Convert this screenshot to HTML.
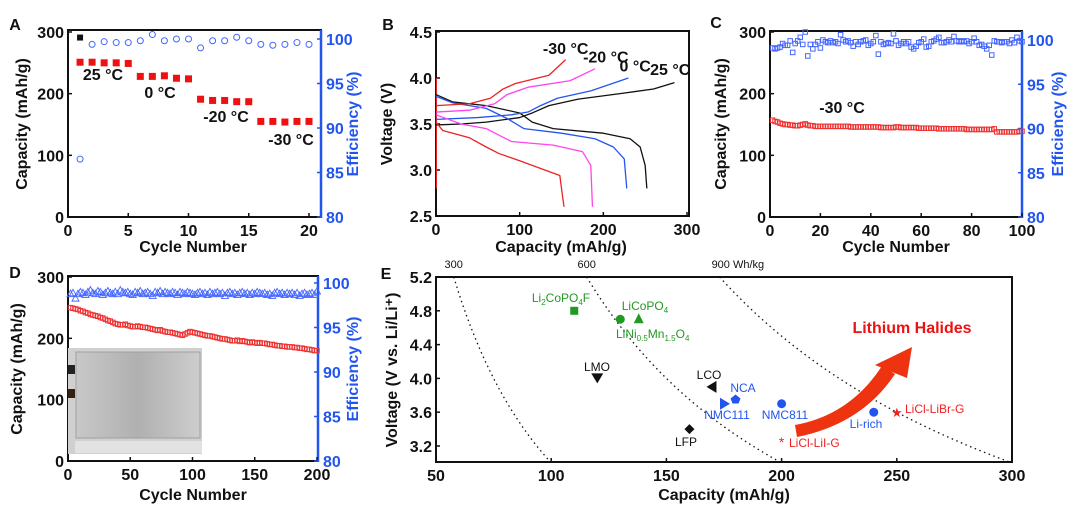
<!DOCTYPE html>
<html><head><meta charset="utf-8"><style>
html,body{margin:0;padding:0;background:#fff;}
svg{display:block;font-family:"Liberation Sans",Arial,sans-serif;}
.t{font-weight:bold;font-size:16px;}
</style></head><body>
<svg id="fig" width="1080" height="508" viewBox="0 0 1080 508"></svg>
<script>
// ---------- DATA ----------
const cyclesA=[1,2,3,4,5,6,7,8,9,10,11,12,13,14,15,16,17,18,19,20];
const capA=[251,251,250,250,249,228,228,229,225,224,191,189,189,187,187,155,155,154,155,155];
const capA1Charge=[291];
const effA=[86.5,99.4,99.7,99.6,99.6,99.8,100.5,99.8,100,100,99,99.8,99.8,100.2,99.8,99.4,99.3,99.4,99.6,99.4];
const xTicksA=[0,5,10,15,20];
const capTicks=[0,100,200,300];
const effTicks=[80,85,90,95,100];

const vTicksB=[2.5,3.0,3.5,4.0,4.5];
const xTicksB=[0,100,200,300];
const curvesB=[
 {name:'25c-charge',c:'#111',pts:[[0,3.49],[30,3.5],[60,3.52],[100,3.57],[115,3.62],[135,3.7],[170,3.77],[220,3.83],[260,3.88],[285,3.95]]},
 {name:'25c-discharge',c:'#111',pts:[[0,3.82],[20,3.74],[60,3.7],[100,3.62],[115,3.52],[140,3.45],[200,3.4],[232,3.34],[244,3.25],[250,3.05],[252,2.8]]},
 {name:'0c-charge',c:'#2255ee',pts:[[0,3.55],[50,3.57],[90,3.6],[110,3.63],[125,3.7],[145,3.78],[185,3.86],[230,4.0]]},
 {name:'0c-discharge',c:'#2255ee',pts:[[0,3.8],[20,3.73],[60,3.67],[85,3.56],[105,3.45],[150,3.4],[190,3.34],[212,3.25],[225,3.12],[228,2.8]]},
 {name:'m20c-charge',c:'#ff44ee',pts:[[0,3.63],[40,3.65],[70,3.72],[85,3.82],[110,3.9],[160,3.97],[190,4.1]]},
 {name:'m20c-discharge',c:'#ff44ee',pts:[[0,3.6],[30,3.5],[60,3.45],[75,3.38],[90,3.31],[140,3.27],[175,3.2],[185,3.05],[187,2.6]]},
 {name:'m30c-charge',c:'#ee2222',pts:[[0,3.7],[40,3.72],[65,3.78],[80,3.88],[95,3.94],[135,4.03],[155,4.2]]},
 {name:'m30c-discharge',c:'#ee2222',pts:[[0,3.52],[8,3.43],[40,3.35],[60,3.25],[75,3.18],[100,3.1],[130,3.0],[148,2.94],[150,2.8],[153,2.6]]}
];
const labelsB=[['-30 °C',155,4.26],['-20 °C',203,4.17],['0 °C',238,4.07],['25 °C',280,4.03]];

const xTicksC=[0,20,40,60,80,100];
const capC=[157,155,154,152,151,150,150,149,149,148,148,149,150,151,149,148,148,147,147,147,
147,147,147,147,147,147,147,147,147,147,147,146,146,146,146,146,146,146,146,146,
146,146,146,145,145,145,145,145,145,146,146,145,145,145,145,145,145,145,144,144,
144,144,144,144,144,144,143,143,143,143,143,143,143,143,143,143,143,142,142,142,
142,142,142,142,142,142,142,142,143,138,138,138,138,138,138,138,138,138,139,139];
const effC=[99.1,99.0,99.1,99.2,99.6,99.4,99.4,99.9,98.6,99.6,99.9,100.3,99.5,100.9,98.2,99.5,99.0,99.5,99.8,99.1,
100.0,99.8,99.7,99.9,99.7,99.8,99.6,100.6,100.0,99.8,99.9,99.7,99.3,99.8,99.5,99.8,99.9,100.0,99.4,99.6,
99.8,100.5,98.4,99.8,99.5,99.6,99.7,99.6,100.7,99.9,99.4,99.6,99.8,99.6,99.8,99.2,99.0,99.3,99.7,99.8,
100.1,99.2,99.3,99.8,99.9,100.1,100.3,99.7,99.7,99.8,100.0,99.8,100.4,99.9,99.8,99.9,99.8,99.9,99.6,99.8,
100.2,99.8,99.4,99.5,99.3,99.0,99.4,98.3,99.9,99.8,99.8,99.7,99.8,99.8,99.6,100.0,99.7,100.3,99.9,99.8];

const xTicksD=[0,50,100,150,200];
const capD=[250,249,248,247,245,244,242,241,239,238,237,236,234,233,231,229,228,226,224,223,
222,222,223,221,220,219,219,220,219,218,218,217,216,215,214,213,214,212,211,210,
210,209,208,207,206,205,207,209,211,210,209,208,207,206,205,204,204,203,202,201,
200,199,199,198,197,196,196,197,195,196,195,194,193,194,193,192,193,192,192,191,
190,190,189,188,188,187,187,186,186,186,185,185,184,184,183,182,182,181,180,180];
const effD=[98.8,98.9,98.3,98.8,99.0,98.9,98.7,99.0,99.2,98.9,98.8,99.1,99.0,98.7,98.9,99.1,98.9,98.8,99.0,98.8,
99.2,99.0,98.9,99.0,98.8,98.7,99.0,98.9,99.1,98.8,98.9,99.0,98.8,98.6,99.0,98.9,99.1,98.8,99.0,98.9,
98.8,99.0,98.9,98.7,99.0,98.9,98.8,99.0,98.9,98.8,98.7,98.9,99.0,98.8,98.9,98.7,99.0,98.8,98.9,99.0,
98.8,98.9,98.6,98.9,99.0,98.8,98.9,98.7,98.9,99.0,98.8,98.9,98.7,98.9,98.8,99.0,98.9,98.8,98.9,98.7,
98.8,98.6,98.9,99.0,98.8,98.9,98.7,98.9,98.8,98.9,98.7,98.9,98.6,98.8,98.9,98.7,98.8,98.9,98.7,99.1];

const xTicksE=[50,100,150,200,250,300];
const vTicksE=[3.2,3.6,4.0,4.4,4.8,5.2];
const energyLines=[300,600,900];
const energyLabels=['300','600','900 Wh/kg'];
const matNames=['Li2CoPO4F','LiCoPO4','LiNi0.5Mn1.5O4','LMO','LCO','LFP','NCA','NMC111','NMC811','Li-rich','LiCl-LiI-G','LiCl-LiBr-G'];
const matCap=[110,130,138,120,170,160,180,175,200,240,200,250];
const matV=[4.8,4.7,4.7,4.0,3.9,3.4,3.75,3.7,3.7,3.6,3.25,3.6];

// ---------- HELPERS ----------
const NS='http://www.w3.org/2000/svg';
const svg=document.getElementById('fig');
function mk(tag,attrs,parent){const e=document.createElementNS(NS,tag);for(const k in attrs)e.setAttribute(k,attrs[k]);(parent||svg).appendChild(e);return e;}
function lin(d0,d1,r0,r1){return v=>r0+(v-d0)*(r1-r0)/(d1-d0);}
function txt(s,x,y,cls,anchor,fill,name,rot,size){
  const t=mk('text',{x:x,y:y,'text-anchor':anchor||'middle',fill:fill||'#111'});
  if(cls)t.setAttribute('class',cls);
  if(size)t.setAttribute('font-size',size);
  if(rot)t.setAttribute('transform','rotate(-90 '+x+' '+y+')');
  t.textContent=s;
  
  
  return t;
}
function box(x0,y0,x1,y1,name,rightColor){
  const g=mk('g',{});
  
  
  mk('rect',{x:x0,y:y0,width:x1-x0,height:y1-y0,fill:'none',stroke:'#111','stroke-width':2},g);
  if(rightColor){mk('line',{x1:x1,y1:y0,x2:x1,y2:y1+1,stroke:rightColor,'stroke-width':2.5},g);}
}
function xTicks(ticks,sx,y,name){
  ticks.forEach(v=>{
    const l=mk('line',{x1:sx(v),x2:sx(v),y1:y,y2:y-4,stroke:'#111','stroke-width':1.5});
    
    
    txt(String(v),sx(v),y+19,'t','middle','#111',name+'-label');
  });
}
function yTicks(ticks,sy,x,side,color,name,fmt){
  ticks.forEach(v=>{
    const d=side==='left'?4:-4;
    const l=mk('line',{x1:x,x2:x+d,y1:sy(v),y2:sy(v),stroke:color,'stroke-width':1.5});
    
    
    const s=fmt?fmt(v):String(v);
    if(side==='left')txt(s,x-4,sy(v)+6,'t','end',color,name+'-label');
    else txt(s,x+5,sy(v)+6,'t','start',color,name+'-label');
  });
}
function sq(x,y,s,fill,stroke,name){
  const r=mk('rect',{x:x-s/2,y:y-s/2,width:s,height:s,fill:fill,stroke:stroke||'none','stroke-width':1});
  
  
  return r;
}

// ---------- PANEL A ----------
{
 const sx=lin(0,20,68,309), sy=lin(0,300,217,32), se=lin(80,100,217,39);
 txt('A',15,30,'t','middle','#111','panel-a-label',0,14);
 box(68,30,321,217,'panel-a-plot-frame','#2255ee');
 xTicks(xTicksA,sx,217,'panel-a-x');
 yTicks(capTicks,sy,68,'left','#111','panel-a-capacity');
 yTicks(effTicks,se,321,'right','#2255ee','panel-a-efficiency');
 cyclesA.forEach((c,i)=>{
   sq(sx(c),sy(capA[i]),7,'#ee1111',null,'panel-a-capacity-point');
   const e=mk('circle',{cx:sx(c),cy:se(effA[i]),r:3,fill:'none',stroke:'#4466ff','stroke-width':1});
   
   
 });
 sq(sx(1),sy(capA1Charge[0]),6,'#111',null,'panel-a-first-charge-point');
 txt('25 °C',103,80,'t','middle','#111','panel-a-25c-label',0,14);
 txt('0 °C',160,98,'t','middle','#111','panel-a-0c-label',0,14);
 txt('-20 °C',226,122,'t','middle','#111','panel-a-m20c-label',0,14);
 txt('-30 °C',291,145,'t','middle','#111','panel-a-m30c-label',0,14);
 txt('Capacity (mAh/g)',27,124,'t','middle','#111','panel-a-y-title',1);
 txt('Efficiency (%)',358,124,'t','middle','#2255ee','panel-a-y2-title',1);
 txt('Cycle Number',193,252,'t','middle','#111','panel-a-x-title');
}
// ---------- PANEL B ----------
{
 const sx=lin(0,300,436,687), sy=lin(2.5,4.5,216,32);
 txt('B',388,30,'t','middle','#111','panel-b-label',0,14);
 box(436,31,689,216,'panel-b-plot-frame');
 xTicks(xTicksB,sx,216,'panel-b-x');
 yTicks(vTicksB,sy,436,'left','#111','panel-b-voltage',v=>v.toFixed(1));
 const vl=mk('line',{x1:sx(0.5),x2:sx(0.5),y1:sy(4.0),y2:sy(2.8),stroke:'#ee2222','stroke-width':1.2});
 
 
 curvesB.forEach(cv=>{
   const p=mk('polyline',{points:cv.pts.map(q=>sx(q[0])+','+sy(q[1])).join(' '),fill:'none',stroke:cv.c,'stroke-width':1.3,'stroke-linejoin':'round'});
   
   
 });
 labelsB.forEach(l=>txt(l[0],sx(l[1]),sy(l[2]),'t','middle','#111','panel-b-curve-label',0,12));
 txt('Voltage (V)',392,124,'t','middle','#111','panel-b-y-title',1);
 txt('Capacity (mAh/g)',561,252,'t','middle','#111','panel-b-x-title');
}
// ---------- PANEL C ----------
{
 const sx=lin(0,100,770,1022), sy=lin(0,300,217,32), se=lin(80,100,217,40);
 txt('C',716,28,'t','middle','#111','panel-c-label',0,14);
 box(770,31,1022,217,'panel-c-plot-frame','#2255ee');
 xTicks(xTicksC,sx,217,'panel-c-x');
 yTicks(capTicks,sy,770,'left','#111','panel-c-capacity');
 yTicks(effTicks,se,1022,'right','#2255ee','panel-c-efficiency');
 capC.forEach((v,i)=>sq(sx(i+1),sy(v),4.5,'none','#ee3333','panel-c-capacity-point'));
 effC.forEach((v,i)=>sq(sx(i+1),se(v),4.5,'none','#4466ff','panel-c-efficiency-point'));
 txt('-30 °C',842,113,'t','middle','#111','panel-c-temp-label',0,14);
 txt('Capacity (mAh/g)',726,124,'t','middle','#111','panel-c-y-title',1);
 txt('Efficiency (%)',1063,124,'t','middle','#2255ee','panel-c-y2-title',1);
 txt('Cycle Number',896,252,'t','middle','#111','panel-c-x-title');
}
// ---------- PANEL D ----------
{
 const sx=lin(0,200,68,317), sy=lin(0,300,461,277), se=lin(80,100,461,283);
 txt('D',15,278,'t','middle','#111','panel-d-label',0,14);
 box(68,276,318,461,'panel-d-plot-frame','#2255ee');
 xTicks(xTicksD,sx,461,'panel-d-x');
 yTicks(capTicks,sy,68,'left','#111','panel-d-capacity');
 yTicks(effTicks,se,318,'right','#2255ee','panel-d-efficiency');
 capD.forEach((v,i)=>sq(sx(i*2+2),sy(v),4.5,'none','#ee3333','panel-d-capacity-point'));
 effD.forEach((v,i)=>{
   const x=sx(i*2+2),y=se(v);
   const t=mk('polygon',{points:(x)+','+(y-3.5)+' '+(x-3.5)+','+(y+3)+' '+(x+3.5)+','+(y+3),fill:'none',stroke:'#4466ff','stroke-width':0.9});
   
   
 });
 const g=mk('g',{});
 
 
 const defs=mk('defs',{});
 const lg=mk('linearGradient',{id:'pg',x1:0,y1:0,x2:1,y2:0},defs);
 mk('stop',{offset:0,'stop-color':'#c8c8c8'},lg);mk('stop',{offset:0.5,'stop-color':'#b0b0b0'},lg);mk('stop',{offset:1,'stop-color':'#cdcdcd'},lg);
 mk('rect',{x:68,y:348,width:134,height:106,fill:'#d0d0d0'},g);
 mk('rect',{x:76,y:352,width:124,height:86,fill:'url(#pg)',stroke:'#a0a0a0'},g);
 mk('rect',{x:68,y:365,width:7,height:9,fill:'#222'},g);
 mk('rect',{x:68,y:389,width:7,height:9,fill:'#332211'},g);
 mk('rect',{x:75,y:441,width:127,height:12,fill:'#e2e2e2'},g);
 txt('Capacity (mAh/g)',22,369,'t','middle','#111','panel-d-y-title',1);
 txt('Efficiency (%)',358,369,'t','middle','#2255ee','panel-d-y2-title',1);
 txt('Cycle Number',193,500,'t','middle','#111','panel-d-x-title');
}
// ---------- PANEL E ----------
{
 const sx=lin(50,300,436,1012), sy=lin(3.2,5.2,446,277);
 txt('E',386,279,'t','middle','#111','panel-e-label',0,14);
 box(436,277,1012,462,'panel-e-plot-frame');
 xTicks(xTicksE,sx,462,'panel-e-x');
 yTicks(vTicksE,sy,436,'left','#111','panel-e-voltage',v=>v.toFixed(1));
 energyLines.forEach((E,i)=>{
   const pts=[];
   for(let c=E/5.2;c<=300&&E/c>=3.0;c+=2)pts.push(sx(c)+','+sy(E/c));
   const p=mk('polyline',{points:pts.join(' '),fill:'none',stroke:'#111','stroke-width':1.3,'stroke-dasharray':'1.5 3.5'});
   
   
   txt(energyLabels[i],i==2?sx(E/5.2)-8:sx(E/5.2),268,null,i==2?'start':'middle','#111','energy-density-label',0,11);
 });
 const ar=mk('g',{});
 
 
 mk('path',{d:'M797,437 L795,425 Q850,415 882,366 L895,374 Q862,424 797,437 Z',fill:'#ee3311'},ar);
 mk('polygon',{points:'875,365 912,347 907,378',fill:'#ee3311'},ar);
 txt('Lithium Halides',912,333,'t','middle','#ee1111','lithium-halides-label',0,13);
 const colors=['#229922','#229922','#229922','#111','#111','#111','#2255ee','#2255ee','#2255ee','#2255ee','#ee2222','#ee2222'];
 matNames.forEach((n,i)=>{
   const x=sx(matCap[i]),y=sy(matV[i]),c=colors[i];let m;
   if(i===0)m=mk('rect',{x:x-4,y:y-4,width:8,height:8,fill:c});
   else if(i===1||i===8||i===9)m=mk('circle',{cx:x,cy:y,r:4.5,fill:c});
   else if(i===2)m=mk('polygon',{points:x+','+(y-6)+' '+(x-5)+','+(y+4)+' '+(x+5)+','+(y+4),fill:c});
   else if(i===3)m=mk('polygon',{points:x+','+(y+5)+' '+(x-6)+','+(y-5)+' '+(x+6)+','+(y-5),fill:c});
   else if(i===4)m=mk('polygon',{points:(x-6)+','+y+' '+(x+4)+','+(y-6)+' '+(x+4)+','+(y+6),fill:c});
   else if(i===5)m=mk('polygon',{points:x+','+(y-5)+' '+(x+5)+','+y+' '+x+','+(y+5)+' '+(x-5)+','+y,fill:c});
   else if(i===6)m=mk('polygon',{points:x+','+(y-5)+' '+(x+5)+','+(y-1)+' '+(x+3)+','+(y+4)+' '+(x-3)+','+(y+4)+' '+(x-5)+','+(y-1),fill:c});
   else if(i===7)m=mk('polygon',{points:(x+6)+','+y+' '+(x-4)+','+(y-6)+' '+(x-4)+','+(y+6),fill:c});
   else if(i===10){m=mk('text',{x:x,y:y+5,'text-anchor':'middle',fill:c,'font-size':14});m.textContent='*';}
   else {m=mk('text',{x:x,y:y+5,'text-anchor':'middle',fill:c,'font-size':13});m.textContent='★';}
   
   
 });
 function lab(html,x,y,c,anchor,name){
   const t=mk('text',{x:x,y:y,'text-anchor':anchor||'middle',fill:c,'font-size':12});
   t.innerHTML=html;
   
   
 }
 const sub='<tspan font-size="8" dy="3">';const end='</tspan><tspan dy="-3">';
 lab('Li'+sub+'2'+end+'CoPO'+sub+'4'+end+'F</tspan>',561,302,'#229922','middle','label-li2copo4f');
 lab('LiCoPO'+sub+'4'+end+'</tspan>',645,310,'#229922','middle','label-licopo4');
 lab('LiNi'+sub+'0.5'+end+'Mn'+sub+'1.5'+end+'O'+sub+'4'+end+'</tspan>',616,338,'#229922','start','label-lini05mn15o4');
 lab('LMO',597,371,'#111','middle','label-lmo');
 lab('LCO',709,379,'#111','middle','label-lco');
 lab('LFP',686,446,'#111','middle','label-lfp');
 lab('NCA',743,392,'#2255ee','middle','label-nca');
 lab('NMC111',727,419,'#2255ee','middle','label-nmc111');
 lab('NMC811',785,419,'#2255ee','middle','label-nmc811');
 lab('Li-rich',866,428,'#2255ee','middle','label-li-rich');
 lab('LiCl-LiI-G',789,447,'#ee2222','start','label-licl-lii-g');
 lab('LiCl-LiBr-G',905,413,'#ee2222','start','label-licl-libr-g');
 txt('Voltage (V vs. Li/Li⁺)',397,370,'t','middle','#111','panel-e-y-title',1);
 txt('Capacity (mAh/g)',724,500,'t','middle','#111','panel-e-x-title');
}
</script>
</body></html>
